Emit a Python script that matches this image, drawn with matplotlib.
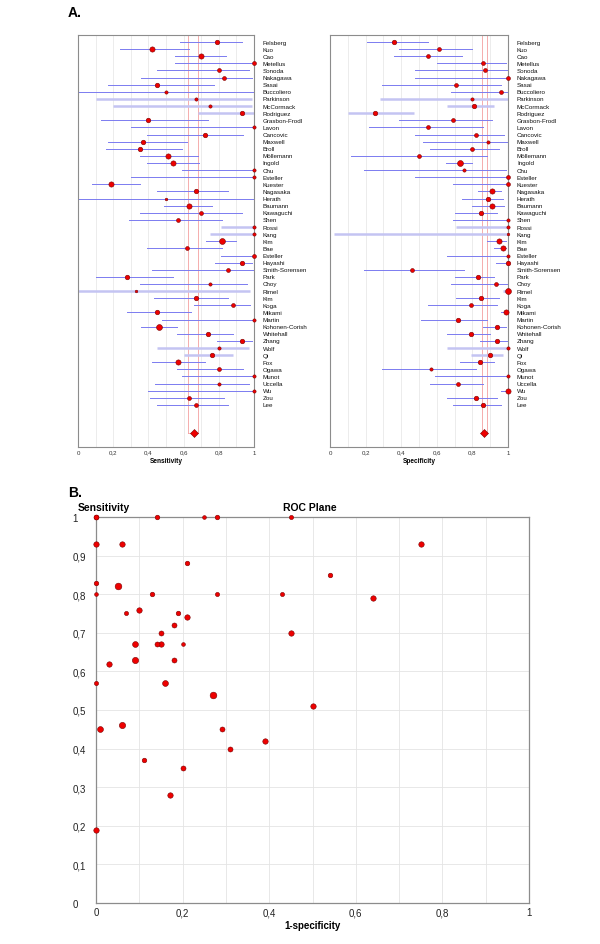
import matplotlib
matplotlib.use("Agg")
import matplotlib.pyplot as plt
import numpy as np

plt.rcParams['font.family'] = ['Liberation Sans', 'DejaVu Sans']

# Studies, top to bottom
studies = ['Felsberg', 'Kuo', 'Cao', 'Metellus', 'Sonoda', 'Nakagawa', 'Sasai',
           'Buccoliero', 'Parkinson', 'McCormack', 'Rodriguez', 'Grasbon-Frodl',
           'Lavon', 'Cancovic', 'Maxwell', 'Broll', 'Möllemann', 'Ingold', 'Chu',
           'Esteller', 'Kuester', 'Nagasaka', 'Herath', 'Baumann', 'Kawaguchi',
           'Shen', 'Rossi', 'Kang', 'Kim', 'Bae', 'Esteller', 'Hayashi',
           'Smith-Sorensen', 'Park', 'Choy', 'Rimel', 'Kim', 'Koga', 'Mikami',
           'Martin', 'Kohonen-Corish', 'Whitehall', 'Zhang', 'Wolf', 'Qi', 'Fox',
           'Ogawa', 'Munot', 'Uccella', 'Wu', 'Zou', 'Lee']

sens = [0.79, 0.42, 0.70, 1.00, 0.80, 0.83, 0.45, 0.50, 0.67, 0.75, 0.93, 0.40,
        1.00, 0.72, 0.37, 0.35, 0.51, 0.54, 1.00, 1.00, 0.19, 0.67, 0.50, 0.63,
        0.70, 0.57, 1.00, 1.00, 0.82, 0.62, 1.00, 0.93, 0.85, 0.28, 0.75, 0.33,
        0.67, 0.88, 0.45, 1.00, 0.46, 0.74, 0.93, 0.80, 0.76, 0.57, 0.80, 1.00,
        0.80, 1.00, 0.63, 0.67]
sens_lo = [0.58, 0.24, 0.55, 0.55, 0.45, 0.36, 0.17, 0.00, 0.10, 0.20, 0.68, 0.13,
           0.30, 0.39, 0.17, 0.16, 0.35, 0.39, 0.59, 0.30, 0.08, 0.45, 0.00, 0.49,
           0.35, 0.29, 0.81, 0.75, 0.73, 0.39, 0.81, 0.78, 0.42, 0.10, 0.35, 0.00,
           0.43, 0.66, 0.28, 0.48, 0.36, 0.56, 0.79, 0.45, 0.60, 0.42, 0.56, 0.59,
           0.44, 0.40, 0.41, 0.45]
sens_hi = [0.93, 0.63, 0.84, 1.00, 0.97, 0.99, 0.77, 1.00, 0.99, 0.99, 1.00, 0.74,
           1.00, 0.94, 0.62, 0.59, 0.68, 0.69, 1.00, 1.00, 0.35, 0.85, 1.00, 0.76,
           0.93, 0.82, 1.00, 1.00, 0.90, 0.82, 1.00, 0.99, 1.00, 0.54, 0.96, 0.98,
           0.85, 0.98, 0.64, 1.00, 0.56, 0.88, 0.99, 0.97, 0.88, 0.72, 0.94, 1.00,
           0.97, 1.00, 0.83, 0.85]

spec = [0.36, 0.61, 0.55, 0.86, 0.87, 1.00, 0.71, 0.96, 0.80, 0.81, 0.25, 0.69,
        0.55, 0.82, 0.89, 0.80, 0.50, 0.73, 0.75, 1.00, 1.00, 0.91, 0.89, 0.91,
        0.85, 1.00, 1.00, 1.00, 0.95, 0.97, 1.00, 1.00, 0.46, 0.83, 0.93, 1.00,
        0.85, 0.79, 0.99, 0.72, 0.94, 0.79, 0.94, 1.00, 0.90, 0.84, 0.57, 1.00,
        0.72, 1.00, 0.82, 0.86]
spec_lo = [0.21, 0.39, 0.36, 0.60, 0.48, 0.48, 0.29, 0.68, 0.28, 0.66, 0.10, 0.39,
           0.22, 0.48, 0.52, 0.56, 0.12, 0.65, 0.19, 0.48, 0.69, 0.83, 0.74, 0.80,
           0.70, 0.69, 0.71, 0.02, 0.88, 0.92, 0.66, 0.93, 0.19, 0.70, 0.68, 0.97,
           0.71, 0.55, 0.96, 0.51, 0.86, 0.66, 0.84, 0.66, 0.79, 0.73, 0.29, 0.59,
           0.56, 0.96, 0.66, 0.69]
spec_hi = [0.55, 0.80, 0.74, 0.99, 1.00, 1.00, 0.96, 1.00, 1.00, 0.92, 0.47, 0.91,
           0.86, 0.98, 1.00, 0.95, 0.88, 0.80, 0.99, 1.00, 1.00, 0.96, 0.97, 0.98,
           0.94, 1.00, 1.00, 1.00, 0.99, 0.99, 1.00, 1.00, 0.75, 0.92, 1.00, 1.00,
           0.95, 0.94, 1.00, 0.88, 0.99, 0.90, 1.00, 1.00, 0.97, 0.92, 0.82, 1.00,
           0.86, 1.00, 0.94, 0.96]

# relative study weights (1 = smallest, 6 = largest)
sens_weight = [4, 5, 5, 3, 3, 3, 4, 2, 2, 2, 4, 4, 2, 4, 4, 4, 5, 5, 2, 2, 5, 4,
               1, 5, 3, 3, 2, 2, 6, 3, 3, 4, 3, 4, 2, 1, 4, 3, 4, 2, 6, 4, 4, 2,
               4, 5, 3, 2, 2, 2, 3, 3]
spec_weight = [4, 3, 3, 3, 3, 3, 3, 3, 2, 4, 4, 3, 3, 3, 2, 3, 3, 6, 2, 3, 3, 5,
               4, 5, 4, 2, 2, 1, 5, 5, 2, 4, 3, 4, 3, 6, 4, 3, 5, 4, 4, 4, 4, 2,
               4, 4, 2, 2, 3, 5, 4, 4]

# pooled estimate, lower, upper
pooled_sens = [0.661, 0.627, 0.684]
pooled_spec = [0.865, 0.852, 0.880]

# studies not plotted in the ROC plane
roc_excluded = [7, 22, 35]

# rows drawn with the pale wide CI style
pale_rows = [8, 9, 10, 26, 27, 35, 43, 44]

DOT = '#ee0000'
EDGE = '#7a0000'
CI_DARK = '#7b7bf0'
CI_PALE = '#c4c4f2'
GRID = '#e4e4e4'
SPINE = '#8c8c8c'


def comma(v):
    s = ('%.1f' % v).replace('.', ',')
    if s.endswith(',0'):
        s = s[:-2]
    return s


def forest(ax, est, lo, hi, weight, pooled, xlabel):
    n = len(est)
    rows = np.arange(n)
    prow = n + 3
    for i in rows:
        if i in pale_rows:
            ax.plot([lo[i], hi[i]], [i, i], color=CI_PALE, lw=1.8, zorder=2,
                    solid_capstyle='butt')
        else:
            ax.plot([lo[i], hi[i]], [i, i], color=CI_DARK, lw=0.7, zorder=2)
    for i in rows:
        ax.plot(est[i], i, 'o', ms=1.4 + 0.47 * weight[i], mfc=DOT, mec=EDGE,
                mew=0.4, zorder=4, clip_on=False)
    # pooled band
    ax.plot([pooled[1], pooled[1]], [-1, prow], color='#f4a0a0', lw=0.6, zorder=1)
    ax.plot([pooled[2], pooled[2]], [-1, prow], color='#f4a0a0', lw=0.6, zorder=1)
    ax.plot([pooled[1], pooled[2]], [prow, prow], color='#f4a0a0', lw=0.6, zorder=1)
    ax.plot(pooled[0], prow, 'D', ms=3.8, mfc=DOT, mec=EDGE, mew=0.4, zorder=5)

    ax.set_xlim(0, 1)
    ax.set_ylim(prow + 1.9, -1)
    ax.set_yticks([])
    ax.set_xticks(np.arange(0, 1.01, 0.2))
    ax.set_xticklabels([comma(v) for v in np.arange(0, 1.01, 0.2)])
    ax.set_xticks(np.arange(0, 1.01, 0.1), minor=True)
    ax.grid(axis='x', which='both', color=GRID, lw=0.5, zorder=0)
    ax.tick_params(axis='x', which='both', length=0, labelsize=4.4, pad=2,
                   colors='#333333')
    ax.set_xlabel(xlabel, fontsize=4.7, fontweight='bold', labelpad=2)
    for sp in ax.spines.values():
        sp.set_color(SPINE)
        sp.set_linewidth(0.8)
    for i in rows:
        ax.text(1.05, i, studies[i], fontsize=4.5, va='center', ha='left',
                transform=ax.get_yaxis_transform(), color='#111111')


fig = plt.figure(figsize=(6, 9.45), dpi=100)

ax1 = fig.add_axes([0.13, 0.526, 0.2933, 0.436])
forest(ax1, sens, sens_lo, sens_hi, sens_weight, pooled_sens, 'Sensitivity')
ax2 = fig.add_axes([0.55, 0.526, 0.2967, 0.436])
forest(ax2, spec, spec_lo, spec_hi, spec_weight, pooled_spec, 'Specificity')

# ROC plane
ax3 = fig.add_axes([0.16, 0.0434, 0.7217, 0.4085])
for i in range(len(studies)):
    if i in roc_excluded:
        continue
    ax3.plot(1 - spec[i], sens[i], 'o',
             ms=1.5 + 0.3 * (sens_weight[i] + spec_weight[i]),
             mfc=DOT, mec=EDGE, mew=0.4, zorder=4, clip_on=False)
ax3.set_xlim(0, 1)
ax3.set_ylim(0, 1)
ax3.set_xticks(np.arange(0, 1.01, 0.1), minor=True)
ax3.set_xticks(np.arange(0, 1.01, 0.2))
ax3.set_xticklabels([comma(v) for v in np.arange(0, 1.01, 0.2)])
ax3.set_yticks(np.arange(0, 1.01, 0.1))
ax3.set_yticklabels([comma(v) for v in np.arange(0, 1.01, 0.1)])
ax3.grid(which='both', color=GRID, lw=0.6, zorder=0)
ax3.tick_params(which='both', length=0, labelsize=7, colors='#222222')
ax3.tick_params(axis='x', pad=3)
ax3.tick_params(axis='y', pad=17)
for lab in ax3.get_yticklabels():
    lab.set_ha('left')
for sp in ax3.spines.values():
    sp.set_color(SPINE)
    sp.set_linewidth(0.9)
ax3.set_xlabel('1-specificity', fontsize=7, fontweight='bold', labelpad=2)

fig.text(78 / 600, 1 - 508 / 945, 'Sensitivity', fontsize=7.5, fontweight='bold',
         ha='left', va='center')
fig.text(310 / 600, 1 - 508 / 945, 'ROC Plane', fontsize=7.5, fontweight='bold',
         ha='center', va='center')
fig.text(68 / 600, 1 - 13 / 945, 'A.', fontsize=10, fontweight='bold',
         ha='left', va='center')
fig.text(68 / 600, 1 - 493 / 945, 'B.', fontsize=10, fontweight='bold',
         ha='left', va='center')

fig.savefig('out.png', dpi=100)
